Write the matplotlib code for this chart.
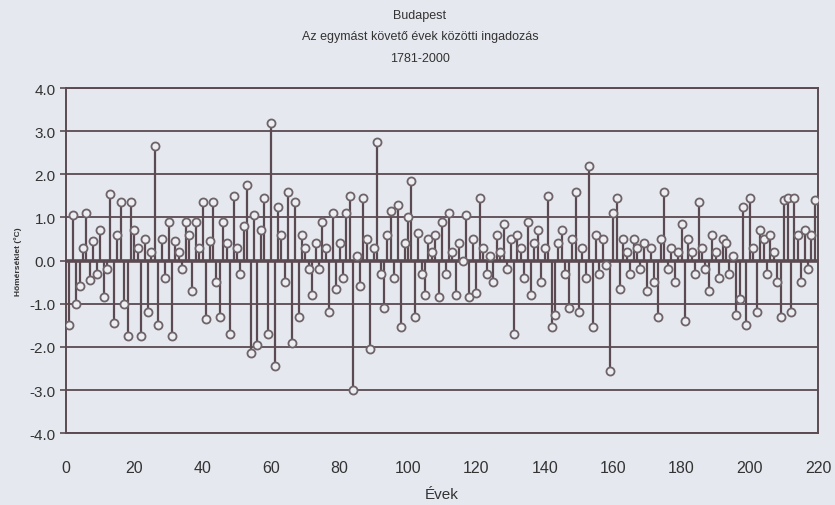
import numpy as np
import matplotlib.pyplot as plt

# year-to-year differences, Budapest 1781-2000
years = list(range(1, 220))
diffs = [
    -1.5, 1.05, -1.0, -0.6, 0.3, 1.1, -0.45, 0.45, -0.3, 0.7,
    -0.85, -0.2, 1.55, -1.45, 0.6, 1.35, -1.0, -1.75, 1.35, 0.7,
    0.3, -1.75, 0.5, -1.2, 0.2, 2.65, -1.5, 0.5, -0.4, 0.9,
    -1.75, 0.45, 0.2, -0.2, 0.9, 0.6, -0.7, 0.9, 0.3, 1.35,
    -1.35, 0.45, 1.35, -0.5, -1.3, 0.9, 0.4, -1.7, 1.5, 0.3,
    -0.3, 0.8, 1.75, -2.15, 1.05, -1.95, 0.7, 1.45, -1.7, 3.2,
    -2.45, 1.25, 0.6, -0.5, 1.6, -1.9, 1.35, -1.3, 0.6, 0.3,
    -0.2, -0.8, 0.4, -0.2, 0.9, 0.3, -1.2, 1.1, -0.65, 0.4,
    -0.4, 1.1, 1.5, -3.0, 0.1, -0.6, 1.45, 0.5, -2.05, 0.3,
    2.75, -0.3, -1.1, 0.6, 1.15, -0.4, 1.3, -1.55, 0.4, 1.0,
    1.85, -1.3, 0.65, -0.3, -0.8, 0.5, 0.2, 0.6, -0.85, 0.9,
    -0.3, 1.1, 0.2, -0.8, 0.4, 0.0, 1.05, -0.85, 0.5, -0.75,
    1.45, 0.3, -0.3, 0.1, -0.5, 0.6, 0.2, 0.85, -0.2, 0.5,
    -1.7, 0.6, 0.3, -0.4, 0.9, -0.8, 0.4, 0.7, -0.5, 0.3,
    1.5, -1.55, -1.25, 0.4, 0.7, -0.3, -1.1, 0.5, 1.6, -1.2,
    0.3, -0.4, 2.2, -1.55, 0.6, -0.3, 0.5, -0.1, -2.55, 1.1,
    1.45, -0.65, 0.5, 0.2, -0.3, 0.5, 0.3, -0.2, 0.4, -0.7,
    0.3, -0.5, -1.3, 0.5, 1.6, -0.2, 0.3, -0.5, 0.2, 0.85,
    -1.4, 0.5, 0.2, -0.3, 1.35, 0.3, -0.2, -0.7, 0.6, 0.2,
    -0.4, 0.5, 0.4, -0.3, 0.1, -1.25, -0.9, 1.25, -1.5, 1.45,
    0.3, -1.2, 0.7, 0.5, -0.3, 0.6, 0.2, -0.5, -1.3, 1.4,
    1.45, -1.2, 1.45, 0.6, -0.5, 0.7, -0.2, 0.6, 1.4,
]

title_lines = ["Budapest", "Az egymást követő évek közötti ingadozás", "1781-2000"]
x_ticks = list(range(0, 221, 20))
y_ticks = [-4, -3, -2, -1, 0, 1, 2, 3, 4]

bg = "#e5e8ee"
dark = "#5b4a51"
plt.rcParams['font.family'] = ['Liberation Sans', 'DejaVu Sans']

fig = plt.figure(figsize=(8.35, 5.06), dpi=100, facecolor=bg)
ax = fig.add_axes([0.079, 0.142, 0.901, 0.682], facecolor=bg)

# horizontal grid at every whole degree
for yv in y_ticks:
    ax.axhline(yv, color=dark, lw=1.3, zorder=1)
ax.axhline(0, color=dark, lw=2.6, zorder=2)

ax.vlines(years, 0, diffs, color=dark, lw=1.6, zorder=3)
ax.plot(years, diffs, ls="none", marker="o", ms=5.8, mfc="#eceef2",
        mec="#6e6369", mew=1.3, zorder=4)

ax.set_xlim(0, 220)
ax.set_ylim(-4, 4)
ax.set_xticks(x_ticks)
ax.set_yticks(y_ticks)
ax.set_yticklabels([f"{v:.1f}" for v in y_ticks])
ax.tick_params(axis="x", length=0, labelsize=11.5, pad=19, colors="#333333")
ax.tick_params(axis="y", length=4, width=1.2, color=dark, labelsize=11,
               colors="#333333")

for side in ["left", "right", "top", "bottom"]:
    ax.spines[side].set_color(dark)
    ax.spines[side].set_linewidth(1.4)

ax.set_xlabel("Évek", fontsize=11, color="#333333", labelpad=9)
ax.set_ylabel("Hőmérséklet (°C)", fontsize=6, fontweight="bold",
              color="#333333", labelpad=5)

for i, line in enumerate(title_lines):
    fig.text(0.503, 0.968 - i * 0.042, line, ha="center", va="center",
             fontsize=9, color="#333333")

fig.savefig("out.png", dpi=100, facecolor=bg)
